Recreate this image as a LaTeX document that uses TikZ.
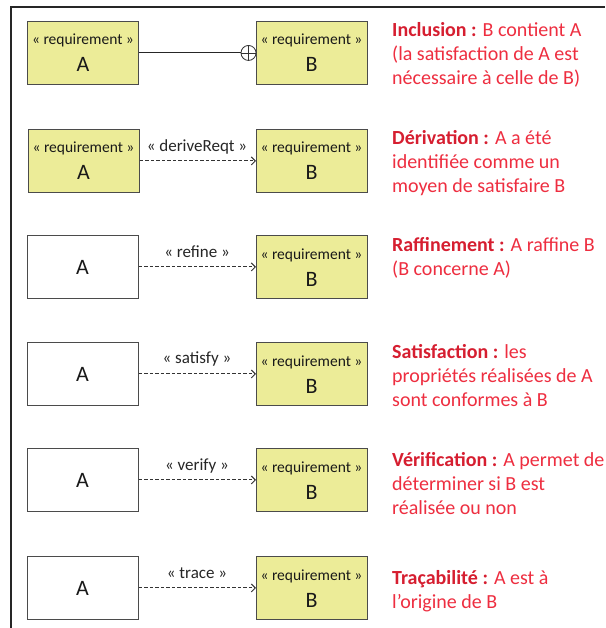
\documentclass[tikz,border=0pt]{standalone}
\usepackage{fontspec}
\setmainfont{Carlito}
\usetikzlibrary{arrows.meta,shadows}
\definecolor{reqfill}{RGB}{236,236,152}
\definecolor{boxline}{RGB}{75,75,75}
\definecolor{txtred}{RGB}{238,46,64}
\definecolor{txtredb}{RGB}{214,30,48}
\tikzset{
  box/.style={draw=boxline, line width=0.9pt, minimum width=111pt, minimum height=63pt,
    inner sep=0pt, anchor=north west, drop shadow={shadow xshift=0.8pt, shadow yshift=-0.8pt, fill=black!35, opacity=0.6}},
  reqbox/.style={box, fill=reqfill},
  plainbox/.style={box, fill=white},
  stereo/.style={font=\fontsize{15.5}{17}\selectfont, text=black!90, inner sep=0pt, anchor=base},
  letter/.style={font=\fontsize{22}{24}\selectfont, text=black!90, inner sep=0pt, anchor=base},
  rel/.style={draw=black!80, dash pattern=on 3.5pt off 2pt, line width=1pt, -{Straight Barb[length=4pt,width=8pt]}},
  rellabel/.style={font=\fontsize{17}{19}\selectfont, text=black!85, inner sep=0pt, anchor=base},
  note/.style={font=\fontsize{20}{24}\selectfont, text=txtred, align=left, anchor=north west, inner sep=0pt},
}
\newcommand{\hd}[1]{\textbf{\color{txtredb}#1}}
\begin{document}
\begin{tikzpicture}[x=1pt,y=-1pt]
\useasboundingbox (0,0) rectangle (605,628);
\fill[white] (0,0) rectangle (605,628);
\draw[line width=1.2pt, black!85] (11,628) -- (11,7) -- (605,7);

% Row 1: inclusion
\node[reqbox] (a1) at (27,21) {};
\node[reqbox] (b1) at (256,21) {};
\node[stereo] (sa1) at (83,45) {« requirement »};
\node[letter] (la1) at (83,72) {A};
\node[stereo] (sb1) at (311.5,45) {« requirement »};
\node[letter] (lb1) at (311.5,72) {B};
\draw[line width=1pt, black!85] (a1.east) -- (b1.west);
\coordinate (c1) at ([xshift=-7.5pt]b1.west);
\draw[line width=0.8pt, black!80, fill=white] (c1) circle (7.5pt);
\draw[line width=0.8pt, black!80] ([xshift=-7.5pt]c1) -- ([xshift=7.5pt]c1);
\draw[line width=0.8pt, black!80] ([yshift=-7.5pt]c1) -- ([yshift=7.5pt]c1);
\node[note] (n1) at (392,19.7) {\strut\hd{Inclusion :} B contient A\\(la satisfaction de A est\\nécessaire à celle de B)};

% Row 2: derivation
\node[reqbox] (a2) at (28,129) {};
\node[reqbox] (b2) at (256,129) {};
\node[stereo] (sa2) at (83.5,153) {« requirement »};
\node[letter] (la2) at (83.5,180) {A};
\node[stereo] (sb2) at (311.5,153) {« requirement »};
\node[letter] (lb2) at (311.5,180) {B};
\draw[rel] (a2.east) -- (b2.west);
\node[rellabel] (r2) at (197,152) {« deriveReqt »};
\node[note] (n2) at (392,127.7) {\strut\hd{Dérivation :} A a été\\identifiée comme un\\moyen de satisfaire B};

% Row 3: refine
\node[plainbox] (a3) at (27,235) {};
\node[reqbox] (b3) at (256,235) {};
\node[letter] (la3) at (82.5,274.5) {A};
\node[stereo] (sb3) at (311.5,259) {« requirement »};
\node[letter] (lb3) at (311.5,286) {B};
\draw[rel] (a3.east) -- (b3.west);
\node[rellabel] (r3) at (197,257) {« refine »};
\node[note] (n3) at (392,234.7) {\strut\hd{Raffinement :} A raffine B\\(B concerne A)};

% Row 4: satisfy
\node[plainbox] (a4) at (27,342) {};
\node[reqbox] (b4) at (256,342) {};
\node[letter] (la4) at (82.5,381.5) {A};
\node[stereo] (sb4) at (311.5,366) {« requirement »};
\node[letter] (lb4) at (311.5,393) {B};
\draw[rel] (a4.east) -- (b4.west);
\node[rellabel] (r4) at (197,363.5) {« satisfy »};
\node[note] (n4) at (392,341.7) {\strut\hd{Satisfaction :} les\\propriétés réalisées de A\\sont conformes à B};

% Row 5: verify
\node[plainbox] (a5) at (27,448) {};
\node[reqbox] (b5) at (256,448) {};
\node[letter] (la5) at (82.5,487.5) {A};
\node[stereo] (sb5) at (311.5,472) {« requirement »};
\node[letter] (lb5) at (311.5,499) {B};
\draw[rel] (a5.east) -- (b5.west);
\node[rellabel] (r5) at (197,470) {« verify »};
\node[note] (n5) at (392,449.7) {\strut\hd{Vérification :} A permet de\\déterminer si B est\\réalisée ou non};

% Row 6: trace
\node[plainbox] (a6) at (27,556) {};
\node[reqbox] (b6) at (256,556) {};
\node[letter] (la6) at (82.5,595.5) {A};
\node[stereo] (sb6) at (311.5,580) {« requirement »};
\node[letter] (lb6) at (311.5,607) {B};
\draw[rel] (a6.east) -- (b6.west);
\node[rellabel] (r6) at (197,578) {« trace »};
\node[note] (n6) at (392,567.7) {\strut\hd{Traçabilité :} A est à\\l’origine de B};
\end{tikzpicture}
\end{document}
